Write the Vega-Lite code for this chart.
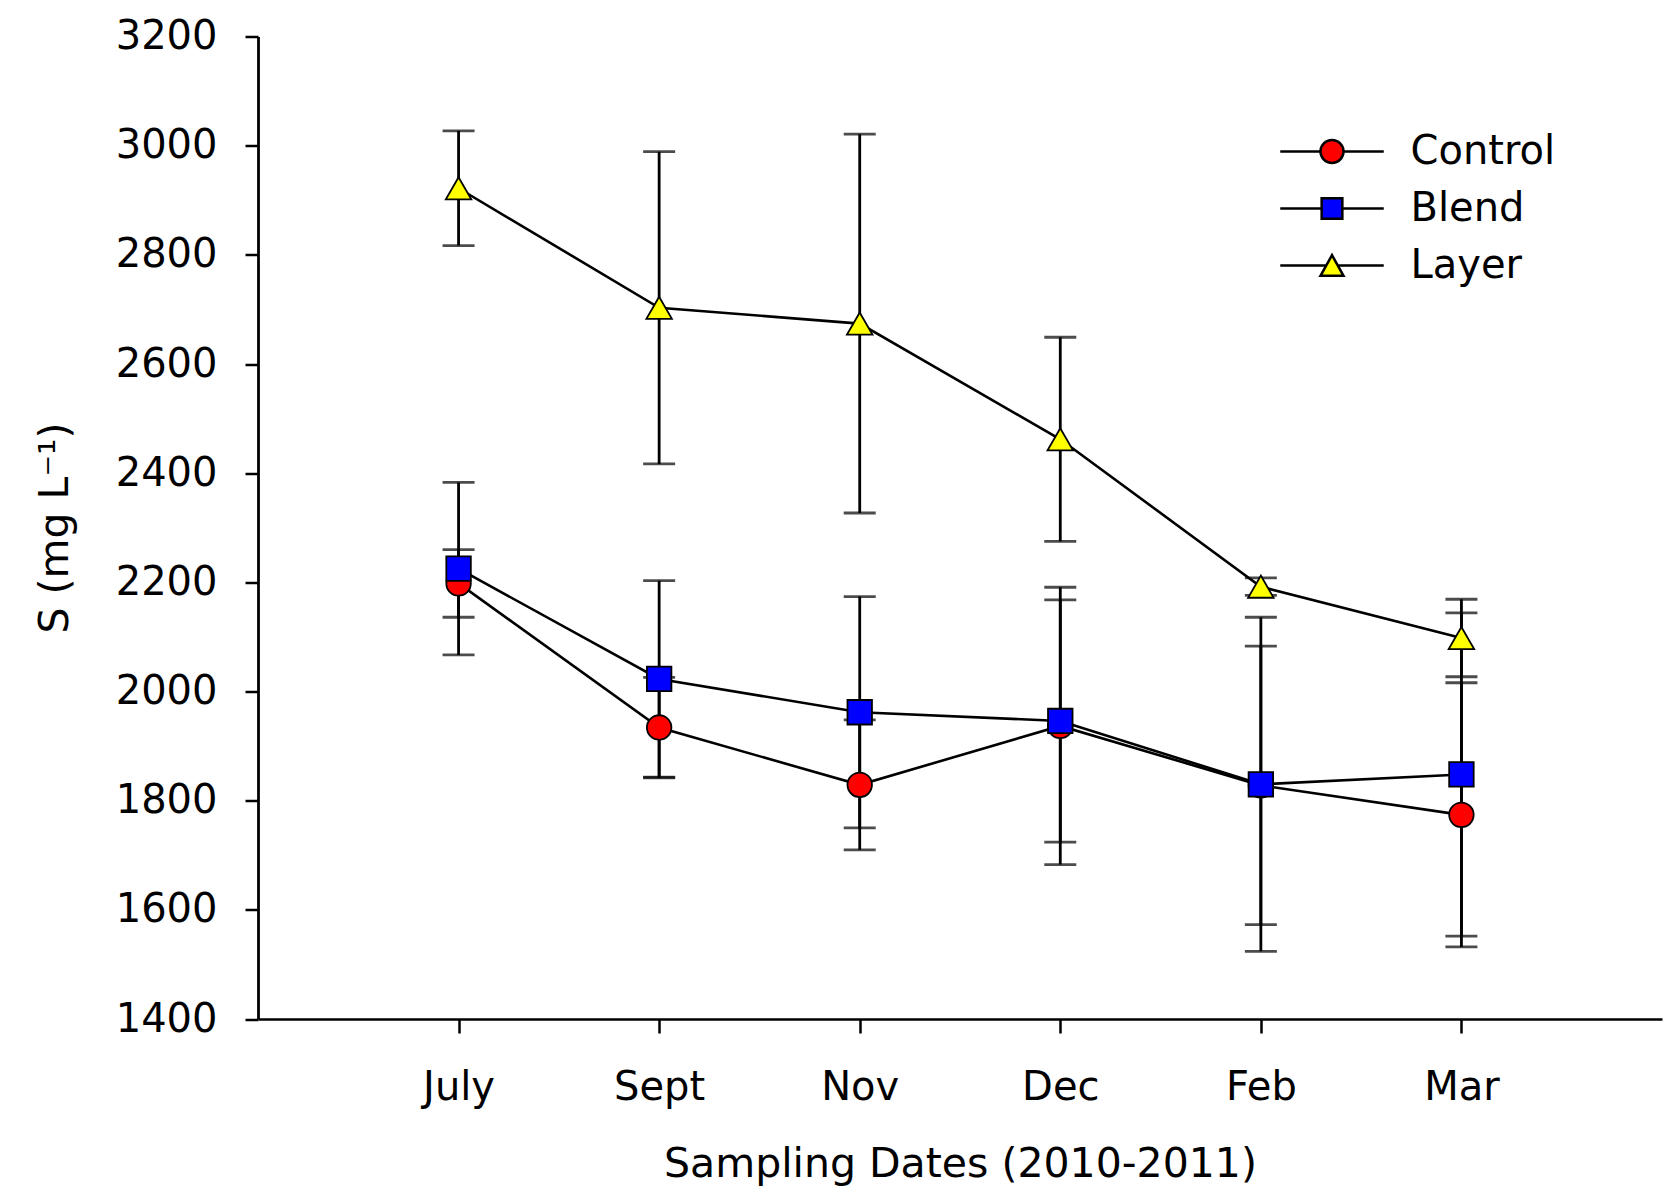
{
  "$schema": "https://vega.github.io/schema/vega-lite/v6.json",
  "width": 1404,
  "height": 982.5,
  "autosize": {"type": "none"},
  "padding": {"left": 258, "top": 36.5, "right": 2, "bottom": 179},
  "background": "white",
  "config": {
    "view": {"stroke": null},
    "font": "DejaVu Sans",
    "axis": {"grid": false, "domainColor": "black", "tickColor": "black", "labelColor": "black", "titleColor": "black", "labelFont": "DejaVu Sans", "titleFont": "DejaVu Sans", "titleFontWeight": "normal"},
    "legend": {"title": null, "orient": "none", "padding": 0, "symbolSize": 529, "labelFontSize": 40, "labelFont": "DejaVu Sans", "labelColor": "black", "labelOffset": 58.5, "symbolStrokeColor": "black", "symbolStrokeWidth": 2.5, "symbolOpacity": 1}
  },
  "data": {
    "values": [
      {"series": "Control", "month": "July", "mean": 2198, "se": 62},
      {"series": "Control", "month": "Sept", "mean": 1934, "se": 92},
      {"series": "Control", "month": "Nov", "mean": 1829, "se": 119},
      {"series": "Control", "month": "Dec", "mean": 1937, "se": 254},
      {"series": "Control", "month": "Feb", "mean": 1828, "se": 255},
      {"series": "Control", "month": "Mar", "mean": 1774, "se": 242},
      {"series": "Blend", "month": "July", "mean": 2225, "se": 158},
      {"series": "Blend", "month": "Sept", "mean": 2023, "se": 180},
      {"series": "Blend", "month": "Nov", "mean": 1962, "se": 212},
      {"series": "Blend", "month": "Dec", "mean": 1946, "se": 222},
      {"series": "Blend", "month": "Feb", "mean": 1830, "se": 306},
      {"series": "Blend", "month": "Mar", "mean": 1848, "se": 296},
      {"series": "Layer", "month": "July", "mean": 2922, "se": 105},
      {"series": "Layer", "month": "Sept", "mean": 2703, "se": 286},
      {"series": "Layer", "month": "Nov", "mean": 2674, "se": 347},
      {"series": "Layer", "month": "Dec", "mean": 2462, "se": 187},
      {"series": "Layer", "month": "Feb", "mean": 2192, "se": 16},
      {"series": "Layer", "month": "Mar", "mean": 2098, "se": 71}
    ]
  },
  "encoding": {
    "x": {
      "field": "month", "type": "nominal",
      "sort": ["July", "Sept", "Nov", "Dec", "Feb", "Mar"],
      "scale": {"type": "point", "padding": 1},
      "title": "Sampling Dates (2010-2011)",
      "axis": {"labelAngle": 0, "domainWidth": 2.5, "tickWidth": 2.5, "tickSize": 14, "labelFontSize": 40, "labelBaseline": "alphabetic", "labelPadding": 66, "titleFontSize": 41, "titleBaseline": "alphabetic", "titleY": 157}
    },
    "y": {
      "field": "mean", "type": "quantitative",
      "scale": {"domain": [1400, 3200], "nice": false, "zero": false},
      "title": "S (mg L⁻¹)",
      "axis": {"values": [1400, 1600, 1800, 2000, 2200, 2400, 2600, 2800, 3000, 3200], "format": "d", "domainWidth": 2.8, "tickWidth": 2.5, "tickSize": 13, "labelFontSize": 40, "labelPadding": 28, "titleFontSize": 41, "titleAngle": -90, "titleBaseline": "middle", "titleX": -203, "titleY": 491}
    }
  },
  "layer": [
    {
      "mark": {"type": "errorbar", "color": "black", "ticks": {"size": 32, "thickness": 2.8, "color": "black"}, "rule": {"strokeWidth": 2.8, "color": "black"}},
      "encoding": {
        "yError": {"field": "se"},
        "detail": {"field": "series"}
      }
    },
    {
      "mark": {"type": "line", "color": "black", "strokeWidth": 2.6},
      "encoding": {
        "detail": {"field": "series"},
        "order": {"value": null}
      }
    },
    {
      "transform": [{"filter": "datum.series === 'Control'"}],
      "mark": {"type": "point", "shape": "circle", "filled": true, "size": 600, "stroke": "black", "strokeWidth": 1.8, "opacity": 1},
      "encoding": {
        "color": {
          "field": "series", "type": "nominal",
          "scale": {"domain": ["Control"], "range": ["#FF0000"]},
          "legend": {"legendX": 1054, "legendY": 95, "symbolType": "M-4.5,0H-1M1,0H4.5M1,0A1,1,0,1,1,-1,0A1,1,0,1,1,1,0Z"}
        }
      }
    },
    {
      "transform": [{"filter": "datum.series === 'Blend'"}],
      "mark": {"type": "point", "shape": "square", "filled": true, "size": 600, "stroke": "black", "strokeWidth": 1.8, "opacity": 1},
      "encoding": {
        "color": {
          "field": "series", "type": "nominal",
          "scale": {"domain": ["Blend"], "range": ["#0000FF"]},
          "legend": {"legendX": 1054, "legendY": 152, "symbolType": "M-4.5,0H-0.9M0.9,0H4.5M-0.9,-0.9H0.9V0.9H-0.9Z"}
        }
      }
    },
    {
      "transform": [{"filter": "datum.series === 'Layer'"}],
      "mark": {"type": "point", "shape": "triangle-up", "filled": true, "size": 650, "stroke": "black", "strokeWidth": 1.8, "opacity": 1},
      "encoding": {
        "color": {
          "field": "series", "type": "nominal",
          "scale": {"domain": ["Layer"], "range": ["#FFFF00"]},
          "legend": {"legendX": 1054, "legendY": 209, "symbolType": "M-4.5,0H-0.5M0.5,0H4.5M0,-0.9L1,0.9H-1Z"}
        }
      }
    }
  ],
  "resolve": {"scale": {"color": "independent"}, "legend": {"color": "independent"}}
}
